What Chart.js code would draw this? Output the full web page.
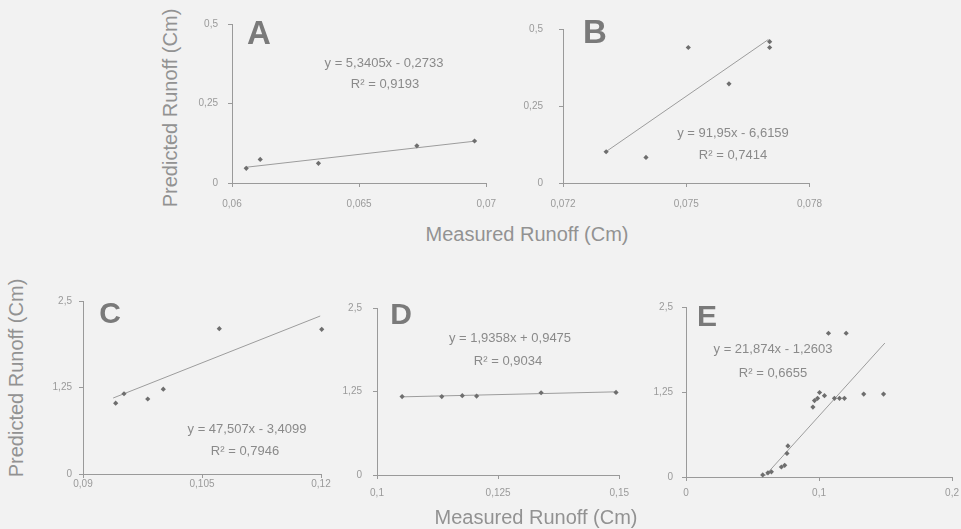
<!DOCTYPE html>
<html>
<head>
<meta charset="utf-8">
<script src="https://cdn.jsdelivr.net/npm/chart.js@4"></script>
<style>
  html,body{margin:0;padding:0;width:961px;height:529px;overflow:hidden;background:#f2f2f2;font-family:"Liberation Sans",Arial,sans-serif;}
  canvas{position:absolute;}
  .t{position:absolute;transform:translate(-50%,-50%);white-space:nowrap;color:#8c8c8c;}
  .eq{font-size:13px;color:#8a8a8a;}
  .let{font-weight:bold;color:#7a7a7a;}
  .ax{font-size:20px;color:#929292;}
  .rot{transform:translate(-50%,-50%) rotate(-90deg);}
</style>
</head>
<body>
<script>
// ---------- data ----------
const measuredA  = [0.06056, 0.06111, 0.0634, 0.06727, 0.06954];
const predictedA = [0.046, 0.074, 0.062, 0.117, 0.132];
const trendAx = [0.0605, 0.0696];
const trendAy = [0.049, 0.132];

const measuredB  = [0.07305, 0.07402, 0.07505, 0.07604, 0.07703, 0.07703];
const predictedB = [0.1015, 0.083, 0.44, 0.322, 0.459, 0.44];
const trendBx = [0.07305, 0.0770];
const trendBy = [0.102, 0.466];

const measuredC  = [0.09412, 0.09517, 0.09816, 0.10012, 0.10718, 0.12009];
const predictedC = [1.023, 1.16, 1.084, 1.226, 2.10, 2.09];
const trendCx = [0.0938, 0.1199];
const trendCy = [1.098, 2.283];

const measuredD  = [0.10518, 0.11337, 0.1176, 0.12056, 0.13387, 0.14933];
const predictedD = [1.174, 1.174, 1.188, 1.182, 1.231, 1.236];
const trendDx = [0.1052, 0.1493];
const trendDy = [1.17, 1.245];

const measuredE  = [0.0577, 0.0616, 0.0642, 0.0717, 0.0742, 0.0759, 0.0766, 0.0954, 0.0966, 0.0989, 0.1004, 0.1041, 0.1071, 0.1116, 0.1154, 0.1191, 0.1204, 0.1336, 0.1485];
const predictedE = [0.03, 0.061, 0.076, 0.147, 0.171, 0.347, 0.457, 1.029, 1.124, 1.157, 1.243, 1.196, 2.114, 1.157, 1.157, 1.157, 2.114, 1.219, 1.219];
const trendEx = [0.0595, 0.1495];
const trendEy = [0.02, 1.97];

const xTicksA = [0.06, 0.065, 0.07];
const xTicksB = [0.072, 0.075, 0.078];
const xTicksC = [0.09, 0.105, 0.12];
const xTicksD = [0.1, 0.125, 0.15];
const xTicksE = [0, 0.1, 0.2];
const yTicksTop = [0, 0.25, 0.5];
const yTicksBottom = [0, 1.25, 2.5];

const panelLetters = ['A', 'B', 'C', 'D', 'E'];
const equations = [
  'y = 5,3405x - 0,2733', 'y = 91,95x - 6,6159', 'y = 47,507x - 3,4099',
  'y = 1,9358x + 0,9475', 'y = 21,874x - 1,2603'
];
const r2s = ['R\u00b2 = 0,9193', 'R\u00b2 = 0,7414', 'R\u00b2 = 0,7946', 'R\u00b2 = 0,9034', 'R\u00b2 = 0,6655'];
const xTitle = 'Measured Runoff (Cm)';
const yTitle = 'Predicted Runoff (Cm)';

// ---------- layout ----------
const YW = 50, XH = 30, PT = 10, PR = 12;
const panels = [
  {L:232, R:495, T:18,  B:183, mx:measuredA, my:predictedA, tx:trendAx, ty:trendAy, xt:xTicksA, yt:yTicksTop,    xpad:11, ypad:10,
   letter:[259,33,33], eq:[384,62], r2:[385,83]},
  {L:563, R:821, T:17,  B:183, mx:measuredB, my:predictedB, tx:trendBx, ty:trendBy, xt:xTicksB, yt:yTicksTop,    xpad:11, ypad:16,
   letter:[595,32,33], eq:[733,132], r2:[733,154]},
  {L:83,  R:321, T:298, B:474, mx:measuredC, my:predictedC, tx:trendCx, ty:trendCy, xt:xTicksC, yt:yTicksBottom, xpad:0,  ypad:7,
   letter:[110,313,30], eq:[247,428], r2:[245,450]},
  {L:377, R:625, T:301, B:475, mx:measuredD, my:predictedD, tx:trendDx, ty:trendDy, xt:xTicksD, yt:yTicksBottom, xpad:8,  ypad:11,
   letter:[401,314,30], eq:[510,337], r2:[508,360]},
  {L:686, R:953, T:302, B:477, mx:measuredE, my:predictedE, tx:trendEx, ty:trendEy, xt:xTicksE, yt:yTicksBottom, xpad:6,  ypad:9,
   letter:[707,316,30], eq:[773,348], r2:[773,372]}
];

const fmt = v => String(Number(v.toFixed(4))).replace('.', ',');

function addText(cls, txt, x, y, size) {
  const d = document.createElement('div');
  d.className = 't ' + cls;
  d.textContent = txt;
  d.style.left = x + 'px';
  d.style.top = y + 'px';
  if (size) d.style.fontSize = size + 'px';
  document.body.appendChild(d);
}

panels.forEach((p, i) => {
  const cv = document.createElement('canvas');
  const w = p.R - p.L + YW + PR, h = p.B - p.T + PT + XH;
  cv.style.left = (p.L - YW) + 'px';
  cv.style.top = (p.T - PT) + 'px';
  cv.style.width = w + 'px';
  cv.style.height = h + 'px';
  cv.width = w; cv.height = h;
  document.body.appendChild(cv);

  const pts = p.mx.map((x, k) => ({x: x, y: p.my[k]}));
  const line = p.tx.map((x, k) => ({x: x, y: p.ty[k]}));

  new Chart(cv, {
    type: 'scatter',
    data: {
      datasets: [
        {data: line, showLine: true, borderColor: '#9c9c9c', borderWidth: 1, pointRadius: 0, clip: false, order: 2},
        {data: pts, pointStyle: 'rectRot', pointRadius: 2.6, backgroundColor: '#6e6e6e', borderColor: '#6e6e6e', borderWidth: 0, clip: false, order: 1}
      ]
    },
    options: {
      responsive: false,
      animation: false,
      devicePixelRatio: 1,
      layout: {padding: {top: PT, right: PR, left: 0, bottom: 0}},
      plugins: {legend: {display: false}, tooltip: {enabled: false}},
      scales: {
        x: {
          type: 'linear',
          min: p.xt[0], max: p.xt[p.xt.length - 1],
          afterFit: s => { s.height = XH; },
          afterBuildTicks: s => { s.ticks = p.xt.map(v => ({value: v})); },
          border: {display: true, color: '#9a9a9a', width: 1},
          grid: {display: true, drawOnChartArea: false, drawTicks: true, tickLength: 4, color: '#9a9a9a'},
          ticks: {callback: v => fmt(v), color: '#9a9a9a', font: {size: 10, family: '"Liberation Sans", Arial'}, padding: p.xpad, maxRotation: 0, autoSkip: false}
        },
        y: {
          type: 'linear',
          min: p.yt[0], max: p.yt[p.yt.length - 1],
          afterFit: s => { s.width = YW; },
          afterBuildTicks: s => { s.ticks = p.yt.map(v => ({value: v})); },
          border: {display: true, color: '#9a9a9a', width: 1},
          grid: {display: true, drawOnChartArea: false, drawTicks: true, tickLength: 4, color: '#9a9a9a'},
          ticks: {callback: v => fmt(v), color: '#9a9a9a', font: {size: 10, family: '"Liberation Sans", Arial'}, padding: p.ypad, autoSkip: false}
        }
      }
    }
  });

  addText('let', panelLetters[i], p.letter[0], p.letter[1], p.letter[2]);
  addText('eq', equations[i], p.eq[0], p.eq[1]);
  addText('eq', r2s[i], p.r2[0], p.r2[1]);
});

addText('ax rot', yTitle, 170, 108);
addText('ax rot', yTitle, 16, 378);
addText('ax', xTitle, 527, 234);
addText('ax', xTitle, 536, 517);
</script>
</body>
</html>
